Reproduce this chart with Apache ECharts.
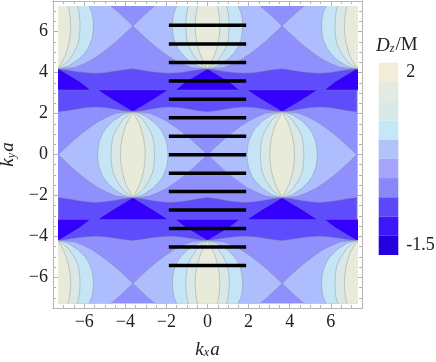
<!DOCTYPE html>
<html>
<head>
<meta charset="utf-8">
<style>
html, body { margin: 0; padding: 0; background: #fff; }
#chart { width: 436px; height: 362px; }
</style>
<script src="https://cdn.jsdelivr.net/npm/echarts@6/dist/echarts.min.js"></script>
</head>
<body>
<div id="chart"></div>
<script>
// tick positions
const majorTicks = [-6, -4, -2, 0, 2, 4, 6];
const minorTicks = [-7, -6.5, -6, -5.5, -5, -4.5, -4, -3.5, -3, -2.5, -2, -1.5, -1, -0.5, 0, 0.5, 1, 1.5, 2, 2.5, 3, 3.5, 4, 4.5, 5, 5.5, 6, 6.5, 7];

// colour bar, top to bottom
const legendLabels = ['2', '', '', '', '', '', '', '', '', '-1.5'];
const legendColors = ['#f3ecd9', '#e5eae0', '#d9e9e8', '#c6e8f6', '#b0c4fb', '#a5a5fb', '#8888fb', '#5c48fb', '#3a18fb', '#2200e0'];
const legendSteps = [1, 1, 1, 1, 1, 1, 1, 1, 1, 1];

// fill colours of the contour levels
const coreColor = '#e8ebda';
const ringColor = '#d9e8e6';
const blueColor = '#c5e5f7';
const lensColor = '#aebdfd';
const baseColor = '#8f8ffd';
const bandColor = '#5f4dfd';
const deepColor = '#3300ff';

// quarter outlines of the lobes, from the tip to the widest point, relative to the centre
const coreEdge = [[0, 2.09], [0.11, 1.87], [0.22, 1.68], [0.33, 1.46], [0.43, 1.15], [0.52, 0.81], [0.58, 0.4], [0.6, 0]];
const ringEdge = [[0, 2.09], [0.2, 1.95], [0.49, 1.71], [0.81, 1.22], [0.95, 0.9], [1.01, 0.65], [1.04, 0.35], [1.06, 0]];
const blueEdge = [[0, 2.09], [0.22, 2.04], [0.49, 1.95], [0.98, 1.63], [1.3, 1.3], [1.46, 1.06], [1.63, 0.65], [1.69, 0.3], [1.71, 0]];
const lensEdge = [[0, 2.09], [0.4, 2.07], [0.81, 2.02], [1.22, 1.85], [1.63, 1.65], [2.03, 1.38], [2.44, 1.07], [2.85, 0.73], [3.25, 0.36], [3.63, 0]];
const lobeCenters = [[-3.63, 0], [3.63, 0], [-7.255, 6.28], [0, 6.28], [7.255, 6.28], [-7.255, -6.28], [0, -6.28], [7.255, -6.28]];

// dark horizontal band, one wave of its two edges (upper half plane)
const waveX = [0, 0.45, 0.91, 1.36, 1.81, 2.27, 2.72, 3.18];
const waveTop = [4.19, 4.12, 4.05, 4.0, 3.98, 4.0, 4.07, 4.14];
const waveBottom = [2.09, 2.15, 2.23, 2.3, 2.33, 2.3, 2.23, 2.15];
const waveStarts = [-7.255, -3.63, 0, 3.63];

// deepest triangles, right half of each, relative to the tip (upper half plane)
const wedgeUp = [[0, 0], [0.49, 0.3], [0.98, 0.59], [1.71, 1.07]];
const wedgeDown = [[0, 0], [0.55, -0.33], [1.04, -0.62], [1.56, -1.03]];
const wedgeUpTips = [[-3.63, 2.09], [3.63, 2.09]];
const wedgeDownTips = [[-7.255, 4.19], [0, 4.19], [7.255, 4.19]];

// the black horizontal bars
const barLevels = [6.32, 5.4, 4.5, 3.6, 2.7, 1.8, 0.9, 0, -0.9, -1.8, -2.7, -3.6, -4.5, -5.4];
const barStart = -1.88;
const barEnd = 1.88;

function lobeOutline(edge, c) {
    const pts = [];
    edge.forEach(p => pts.push([c[0] + p[0], c[1] + p[1]]));
    edge.slice().reverse().forEach(p => pts.push([c[0] + p[0], c[1] - p[1]]));
    edge.forEach(p => pts.push([c[0] - p[0], c[1] - p[1]]));
    edge.slice().reverse().forEach(p => pts.push([c[0] - p[0], c[1] + p[1]]));
    return pts;
}

function bandOutline(sign) {
    const top = [], bottom = [];
    waveStarts.forEach(s => waveX.forEach((x, i) => {
        top.push([s + x, sign * waveTop[i]]);
        bottom.push([s + x, sign * waveBottom[i]]);
    }));
    top.push([7.255, sign * 4.19]);
    bottom.push([7.255, sign * 2.09]);
    return top.concat(bottom.reverse());
}

function wedgeOutline(edge, tip, sign) {
    const right = edge.map(p => [tip[0] + p[0], tip[1] * sign + p[1] * sign]);
    const left = edge.map(p => [tip[0] - p[0], tip[1] * sign + p[1] * sign]).reverse();
    return right.concat(left.slice(0, -1));
}

// painted back to front
const regions = [];
regions.push({ color: baseColor, stroke: 'none', points: [[-7.3, -7.3], [7.3, -7.3], [7.3, 7.3], [-7.3, 7.3]] });
[1, -1].forEach(sign => {
    regions.push({ color: bandColor, points: bandOutline(sign) });
    wedgeUpTips.forEach(t => regions.push({ color: deepColor, points: wedgeOutline(wedgeUp, t, sign) }));
    wedgeDownTips.forEach(t => regions.push({ color: deepColor, points: wedgeOutline(wedgeDown, t, sign) }));
});
[[lensEdge, lensColor], [blueEdge, blueColor], [ringEdge, ringColor], [coreEdge, coreColor]].forEach(level => {
    lobeCenters.forEach(c => regions.push({ color: level[1], points: lobeOutline(level[0], c) }));
});

const serifFont = '"Liberation Serif", serif';
const tickColor = '#b4b4b4';

function frameAxis(position, ticks, len, extra) {
    return Object.assign({
        type: 'value',
        gridIndex: 0,
        position: position,
        axisLine: { onZero: false, lineStyle: { color: tickColor, width: 1 } },
        axisTick: { inside: true, length: len, customValues: ticks, lineStyle: { color: tickColor, width: 1 } },
        axisLabel: { show: false },
        splitLine: { show: false }
    }, extra);
}

const tickLabel = {
    show: true,
    customValues: majorTicks,
    color: '#222',
    fontFamily: serifFont,
    fontSize: 18,
    margin: 5,
    formatter: v => (v < 0 ? '\u2212' + (-v) : '' + v)
};

const nameRich = {
    k: { fontFamily: serifFont, fontStyle: 'italic', fontWeight: 'normal', fontSize: 19, color: '#222' },
    s: { fontFamily: serifFont, fontStyle: 'italic', fontWeight: 'normal', fontSize: 12, color: '#222', verticalAlign: 'bottom', padding: [7, 1, 0, 0] },
    m: { fontFamily: serifFont, fontWeight: 'normal', fontSize: 19, color: '#222' }
};

const xRange = { min: -7.52, max: 7.52 };
const yRange = { min: -7.5, max: 7.5 };

const myChart = echarts.init(document.getElementById('chart'), null, { renderer: 'canvas' });
myChart.setOption({
    animation: false,
    backgroundColor: '#fff',
    title: {
        text: '{k|D}{s|z}{m|/M}',
        left: 371,
        top: 31,
        textStyle: { rich: nameRich }
    },
    grid: [
        { left: 53, top: 1, width: 309, height: 307, outerBoundsMode: 'none' },
        { left: 58.3, top: 6, width: 298.4, height: 297.4, outerBoundsMode: 'none' },
        { left: 378.7, top: 62.7, width: 19.6, height: 192.3, outerBoundsMode: 'none' }
    ],
    xAxis: [
        frameAxis('bottom', majorTicks, 5, Object.assign({}, xRange, {
            axisLabel: tickLabel,
            name: '{k|k}{s|x}{k|a}',
            nameLocation: 'middle',
            nameGap: 32,
            nameTextStyle: { rich: nameRich }
        })),
        frameAxis('bottom', minorTicks, 3, xRange),
        frameAxis('top', majorTicks, 5, xRange),
        frameAxis('top', minorTicks, 3, xRange),
        { type: 'value', gridIndex: 1, min: -7.255, max: 7.255, show: false },
        { type: 'value', gridIndex: 2, min: 0, max: 1, show: false }
    ],
    yAxis: [
        frameAxis('left', majorTicks, 5, Object.assign({}, yRange, {
            axisLabel: tickLabel,
            name: '{k|k}{s|y}{k|a}',
            nameLocation: 'middle',
            nameGap: 30,
            nameTextStyle: { rich: nameRich }
        })),
        frameAxis('left', minorTicks, 3, yRange),
        frameAxis('right', majorTicks, 5, yRange),
        frameAxis('right', minorTicks, 3, yRange),
        { type: 'value', gridIndex: 1, min: -7.255, max: 7.255, show: false },
        {
            type: 'category',
            gridIndex: 2,
            position: 'right',
            inverse: true,
            data: legendLabels,
            axisLine: { show: false },
            axisTick: { show: false },
            axisLabel: { interval: 0, color: '#222', fontFamily: serifFont, fontSize: 18, margin: 8 }
        }
    ],
    series: [
        {
            type: 'custom',
            xAxisIndex: 4,
            yAxisIndex: 4,
            clip: true,
            silent: true,
            data: regions.map((r, i) => [i, 0]),
            renderItem: (params, api) => {
                const r = regions[params.dataIndex];
                return {
                    type: 'polygon',
                    shape: { points: r.points.map(p => api.coord(p)) },
                    style: { fill: r.color, stroke: r.stroke || 'rgba(125,125,125,0.45)', lineWidth: 0.8 }
                };
            }
        },
        {
            type: 'bar',
            xAxisIndex: 5,
            yAxisIndex: 5,
            barWidth: '100%',
            silent: true,
            data: legendSteps,
            itemStyle: { color: p => legendColors[p.dataIndex] }
        }
    ].concat(barLevels.map(y => ({
        type: 'line',
        xAxisIndex: 4,
        yAxisIndex: 4,
        symbol: 'none',
        silent: true,
        z: 5,
        lineStyle: { color: '#000', width: 3.5, cap: 'butt' },
        data: [[barStart, y], [barEnd, y]]
    })))
});
</script>
</body>
</html>
